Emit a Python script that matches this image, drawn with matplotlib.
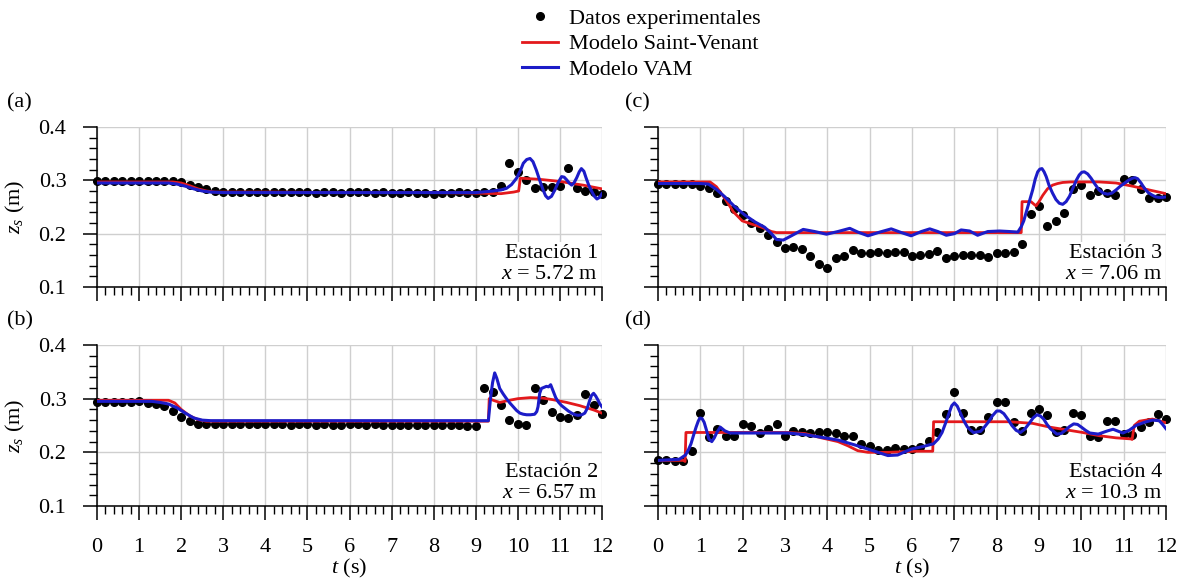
import numpy as np
import matplotlib
matplotlib.use("Agg")
import matplotlib.pyplot as plt
from matplotlib.ticker import MultipleLocator
from matplotlib.lines import Line2D

plt.rcParams["font.family"] = "Liberation Serif"
plt.rcParams["mathtext.fontset"] = "custom"
plt.rcParams["mathtext.rm"] = "Liberation Serif"
plt.rcParams["mathtext.it"] = "Liberation Serif:italic"

RED = "#e3191c"
BLUE = "#1c1cc8"
FS = 16

# sampling times of the experimental gauges (every 0.2 s)
t_exp = np.round(np.arange(0, 12.01, 0.2), 1)

# (a) Estacion 1, x = 5.72 m
exp_a = [0.298] * 10 + [0.296, 0.292, 0.287, 0.283, 0.280] + [
    0.279, 0.278, 0.279, 0.278, 0.279, 0.278, 0.278, 0.279, 0.278, 0.279, 0.278,
    0.277, 0.278, 0.279, 0.277, 0.278, 0.278, 0.279, 0.277, 0.278, 0.276, 0.277,
    0.278, 0.276, 0.277, 0.275, 0.277, 0.276, 0.278, 0.277, 0.277, 0.278, 0.278,
] + [0.289, 0.332, 0.316, 0.300, 0.285, 0.287, 0.288, 0.290, 0.324, 0.285, 0.280, 0.278, 0.275]
sv_a_t = [0, 1.8, 2.0, 2.2, 2.4, 2.6, 2.8, 4.0, 6.0, 8.0, 9.0, 9.6, 9.9, 10.02, 10.06, 10.5, 11.0, 11.3, 11.55, 12.0]
sv_a = [0.297, 0.297, 0.295, 0.290, 0.284, 0.280, 0.278, 0.278, 0.277, 0.277, 0.276, 0.275, 0.278, 0.280,
        0.304, 0.302, 0.298, 0.294, 0.291, 0.284]
vam_a_t = [0, 1.7, 1.9, 2.1, 2.3, 2.5, 2.7, 3.0, 5.0, 7.0, 9.0, 9.41, 9.6, 9.73, 9.85, 9.97, 10.06, 10.13, 10.21,
           10.29, 10.36, 10.44, 10.52, 10.6, 10.66, 10.72, 10.8, 10.88, 10.96, 11.04, 11.1, 11.16, 11.22, 11.28,
           11.34, 11.4, 11.46, 11.51, 11.57, 11.62, 11.68, 11.75, 11.82, 11.88, 11.94, 12.0]
vam_a = [0.295, 0.295, 0.293, 0.289, 0.284, 0.280, 0.278, 0.277, 0.277, 0.277, 0.277, 0.280, 0.282, 0.285,
         0.292, 0.304, 0.318, 0.332, 0.339, 0.341, 0.335, 0.319, 0.300, 0.282, 0.271, 0.266, 0.270, 0.282,
         0.296, 0.307, 0.306, 0.301, 0.295, 0.291, 0.296, 0.305, 0.316, 0.322, 0.317, 0.305, 0.292, 0.280,
         0.270, 0.265, 0.268, 0.275]

# (b) Estacion 2, x = 6.57 m
exp_b = [0.293, 0.294, 0.294, 0.294, 0.294] + [0.295, 0.292, 0.290, 0.286, 0.277, 0.266, 0.258, 0.253] + [
    0.252, 0.252, 0.252, 0.252, 0.252, 0.252, 0.252, 0.252, 0.252, 0.252, 0.251,
    0.252, 0.252, 0.251, 0.252, 0.251, 0.251, 0.252, 0.252, 0.251, 0.252, 0.251,
    0.251, 0.251, 0.251, 0.251, 0.251, 0.251, 0.251, 0.251, 0.251, 0.250, 0.250,
] + [0.320, 0.312, 0.288, 0.260, 0.252, 0.251, 0.320, 0.298, 0.275, 0.265, 0.264, 0.269, 0.308, 0.288, 0.272]
sv_b_t = [0, 1.7, 1.85, 2.0, 2.2, 2.4, 2.6, 4, 6, 8, 9.3, 9.32, 9.45, 9.57, 9.8, 10.0, 10.3, 10.6, 10.84,
          11.16, 11.47, 11.8, 12.0]
sv_b = [0.297, 0.297, 0.292, 0.280, 0.268, 0.261, 0.258, 0.258, 0.258, 0.258, 0.258, 0.300, 0.296, 0.293,
        0.297, 0.300, 0.302, 0.301, 0.298, 0.293, 0.287, 0.279, 0.273]
vam_b_t = [0, 1.3, 1.5, 1.7, 1.9, 2.1, 2.3, 2.5, 2.7, 5, 7, 9.3, 9.35, 9.4, 9.45, 9.5, 9.57, 9.65, 9.73, 9.81,
           9.89, 9.97, 10.05, 10.13, 10.21, 10.3, 10.4, 10.45, 10.48, 10.52, 10.56, 10.62, 10.68, 10.73, 10.78,
           10.84, 10.9, 10.96, 11.04, 11.12, 11.2, 11.28, 11.36, 11.43, 11.52, 11.59, 11.65, 11.7, 11.75, 11.8,
           11.85, 11.9, 11.95, 12.0]
vam_b = [0.295, 0.295, 0.293, 0.290, 0.283, 0.273, 0.264, 0.260, 0.259, 0.259, 0.259, 0.259, 0.300, 0.330,
         0.348, 0.338, 0.319, 0.309, 0.300, 0.292, 0.285, 0.278, 0.273, 0.271, 0.270, 0.270, 0.271, 0.276,
         0.285, 0.310, 0.319, 0.321, 0.323, 0.322, 0.326, 0.314, 0.302, 0.294, 0.287, 0.282, 0.277, 0.273,
         0.270, 0.269, 0.270, 0.273, 0.282, 0.295, 0.306, 0.310, 0.305, 0.298, 0.290, 0.285]

# (c) Estacion 3, x = 7.06 m
exp_c = [0.294] * 5 + [
    0.290, 0.285, 0.276, 0.262, 0.247, 0.235, 0.220, 0.210, 0.197, 0.184, 0.174, 0.175, 0.171,
    0.158, 0.143, 0.135, 0.154, 0.158, 0.170, 0.163, 0.163, 0.166, 0.164, 0.166, 0.166,
] + [
    0.158, 0.160, 0.161, 0.168, 0.154, 0.158, 0.160, 0.160, 0.160, 0.157, 0.163, 0.164, 0.165,
    0.180, 0.237, 0.252, 0.215, 0.224, 0.238, 0.284, 0.291, 0.272, 0.280, 0.277, 0.272, 0.302,
    0.300, 0.284, 0.266, 0.266, 0.269,
]
sv_c_t = [0, 1.23, 1.38, 1.58, 1.78, 1.99, 2.21, 2.45, 2.68, 2.80, 5, 8.58, 8.6, 8.81, 8.93, 9.0, 9.09, 9.2,
          9.32, 9.44, 9.56, 9.75, 9.95, 10.42, 10.82, 11.21, 11.6, 12.0]
sv_c = [0.297, 0.297, 0.288, 0.266, 0.241, 0.224, 0.218, 0.212, 0.204, 0.202, 0.202, 0.202, 0.260, 0.260,
        0.252, 0.260, 0.272, 0.284, 0.291, 0.294, 0.296, 0.297, 0.297, 0.297, 0.295, 0.289, 0.282, 0.275]
vam_c_t = [0, 1.0, 1.19, 1.38, 1.58, 1.82, 2.05, 2.29, 2.52, 2.68, 2.80, 2.96, 3.15, 3.43, 3.70, 3.98,
           4.25, 4.53, 4.72, 4.96, 5.24, 5.51, 5.75, 5.98, 6.22, 6.42, 6.61, 6.81, 7.0, 7.16, 7.36, 7.55,
           7.79, 8.07, 8.3, 8.5, 8.58, 8.64, 8.69, 8.77, 8.85, 8.91, 8.97, 9.02, 9.07, 9.12, 9.17, 9.24, 9.32,
           9.4, 9.48, 9.56, 9.64, 9.72, 9.8, 9.88, 9.95, 10.01, 10.07, 10.15, 10.23, 10.32, 10.42, 10.52,
           10.62, 10.72, 10.82, 10.92, 11.01, 11.11, 11.21, 11.27, 11.33, 11.41, 11.49, 11.58, 11.68, 11.76,
           11.84, 11.92, 12.0]
vam_c = [0.294, 0.294, 0.293, 0.283, 0.269, 0.250, 0.235, 0.222, 0.212, 0.200, 0.189, 0.188, 0.196, 0.208,
         0.204, 0.199, 0.204, 0.210, 0.203, 0.196, 0.203, 0.209, 0.202, 0.196, 0.204, 0.209, 0.204, 0.197,
         0.200, 0.207, 0.205, 0.197, 0.204, 0.205, 0.204, 0.203, 0.213, 0.224, 0.238, 0.260, 0.282, 0.302,
         0.316, 0.321, 0.322, 0.316, 0.307, 0.290, 0.276, 0.264, 0.257, 0.255, 0.260, 0.270, 0.285, 0.300,
         0.310, 0.315, 0.316, 0.312, 0.304, 0.293, 0.282, 0.276, 0.274, 0.276, 0.282, 0.289, 0.294, 0.300,
         0.304, 0.305, 0.303, 0.295, 0.285, 0.277, 0.272, 0.269, 0.268, 0.268, 0.269]

# (d) Estacion 4, x = 10.3 m
exp_d = [
    0.185, 0.185, 0.184, 0.184, 0.203, 0.273, 0.228, 0.244, 0.231, 0.230, 0.253, 0.249, 0.236, 0.243,
    0.252, 0.230, 0.240, 0.238, 0.236, 0.238, 0.237, 0.236, 0.231, 0.230, 0.215, 0.212, 0.205, 0.205,
    0.208, 0.206,
] + [
    0.207, 0.210, 0.222, 0.238, 0.272, 0.312, 0.273, 0.242, 0.242, 0.265, 0.293, 0.293, 0.256, 0.239,
    0.273, 0.281, 0.270, 0.238, 0.241, 0.274, 0.269, 0.231, 0.228, 0.259, 0.259, 0.235, 0.233, 0.247,
    0.257, 0.272, 0.262,
]
sv_d_t = [0, 0.6, 0.64, 0.66, 3.07, 3.47, 3.86, 4.25, 4.49, 4.72, 4.96, 5.43, 6.06, 6.49, 6.51, 8.3, 8.85,
          9.25, 9.64, 10.03, 10.42, 10.82, 11.17, 11.2, 11.25, 11.37, 11.68, 11.96, 12.0]
sv_d = [0.185, 0.185, 0.183, 0.237, 0.237, 0.235, 0.227, 0.220, 0.212, 0.203, 0.200, 0.200, 0.202, 0.202,
        0.257, 0.257, 0.254, 0.247, 0.242, 0.237, 0.231, 0.227, 0.225, 0.224, 0.250, 0.258, 0.262, 0.256,
        0.255]
vam_d_t = [0, 0.5, 0.65, 0.72, 0.78, 0.84, 0.9, 0.95, 0.99, 1.04, 1.09, 1.15, 1.2, 1.27, 1.33, 1.39, 1.47,
           1.58, 1.7, 3.07, 3.47, 3.86, 4.25, 4.64, 5.04, 5.43, 5.66, 5.98, 6.27, 6.51, 6.62, 6.71, 6.8, 6.87,
           6.94, 7.0, 7.07, 7.15, 7.23, 7.31, 7.45, 7.62, 7.71, 7.8, 7.9, 8.0, 8.08, 8.17, 8.27, 8.36, 8.46,
           8.56, 8.66, 8.76, 8.86, 8.95, 9.03, 9.11, 9.19, 9.27, 9.42, 9.52, 9.62, 9.72, 9.82, 9.91, 10.0,
           10.1, 10.2, 10.4, 10.62, 10.75, 10.98, 11.13, 11.29, 11.49, 11.68, 11.84, 11.92, 12.0]
vam_d = [0.185, 0.187, 0.195, 0.205, 0.216, 0.232, 0.247, 0.258, 0.264, 0.263, 0.256, 0.240, 0.225, 0.220,
         0.227, 0.237, 0.247, 0.240, 0.236, 0.236, 0.233, 0.228, 0.223, 0.214, 0.204, 0.194, 0.195, 0.206,
         0.211, 0.216, 0.225, 0.237, 0.256, 0.272, 0.287, 0.292, 0.286, 0.272, 0.258, 0.247, 0.237, 0.239,
         0.247, 0.256, 0.268, 0.277, 0.277, 0.272, 0.261, 0.250, 0.241, 0.237, 0.243, 0.253, 0.264, 0.270,
         0.268, 0.262, 0.252, 0.244, 0.234, 0.235, 0.241, 0.248, 0.253, 0.252, 0.247, 0.241, 0.236, 0.234,
         0.240, 0.243, 0.236, 0.241, 0.250, 0.256, 0.260, 0.259, 0.252, 0.244]

panels = [
    ("(a)", "Estación 1", "5.72", exp_a, sv_a_t, sv_a, vam_a_t, vam_a),
    ("(b)", "Estación 2", "6.57", exp_b, sv_b_t, sv_b, vam_b_t, vam_b),
    ("(c)", "Estación 3", "7.06", exp_c, sv_c_t, sv_c, vam_c_t, vam_c),
    ("(d)", "Estación 4", "10.3", exp_d, sv_d_t, sv_d, vam_d_t, vam_d),
]

fig = plt.figure(figsize=(11.81, 5.86), dpi=100)
W, H = 1181, 586
# axes boxes in pixels: left, right, top, bottom
boxes = [(97, 602, 127, 287), (97, 602, 345, 506), (658, 1166, 127, 287), (658, 1166, 345, 506)]

for i, (lab, est, xpos, ex, st, sz, vt, vz) in enumerate(panels):
    l, r, t, b = boxes[i]
    ax = fig.add_axes([l / W, 1 - b / H, (r - l) / W, (b - t) / H])
    ax.plot(t_exp, ex, "o", color="black", ms=5.5, clip_on=False, zorder=3)
    ax.plot(st, sz, color=RED, lw=2.0, zorder=4)
    ax.plot(vt, vz, color=BLUE, lw=2.2, zorder=5)

    ax.set_xlim(0, 12)
    ax.set_ylim(0.1, 0.4)
    ax.xaxis.set_major_locator(MultipleLocator(1))
    ax.xaxis.set_minor_locator(MultipleLocator(0.2))
    ax.yaxis.set_major_locator(MultipleLocator(0.1))
    ax.yaxis.set_minor_locator(MultipleLocator(0.02))
    ax.grid(True, which="major", color="#cfcfcf", lw=1.0)
    ax.set_axisbelow(True)
    for s in ["top", "right"]:
        ax.spines[s].set_visible(False)
    for s in ["left", "bottom"]:
        ax.spines[s].set_linewidth(1.1)
    ax.tick_params(which="major", direction="out", length=10, width=1.1, labelsize=FS)
    ax.tick_params(which="minor", direction="out", length=6, width=1.0)
    ax.tick_params(axis="x", which="major", pad=13)
    ax.tick_params(axis="y", which="major", pad=12)

    bottom_row = i in (1, 3)
    left_col = i in (0, 1)
    if bottom_row:
        ax.set_xlabel("$t$ (s)", fontsize=FS, labelpad=0)
    else:
        ax.set_xticklabels([])
    if left_col:
        ax.set_yticks([0.1, 0.2, 0.3, 0.4])
        ax.set_yticklabels(["0.1", "0.2", "0.3", "0.4"])
        ax.set_ylabel("$z_s$ (m)", fontsize=FS, labelpad=8)
    else:
        ax.set_yticklabels([])

    ax.text(0.992, 0.02, est + "\n$x$ = " + xpos + " m", transform=ax.transAxes, ha="right", va="bottom",
            fontsize=FS, linespacing=1.1, zorder=6,
            bbox=dict(facecolor="white", edgecolor="none", pad=1.5))
    ax.text((7 if left_col else 625) / W, 1 - (t - 24) / H, lab, transform=fig.transFigure,
            ha="left", va="center", fontsize=FS)

handles = [
    Line2D([], [], ls="none", marker="o", color="black", ms=5.5),
    Line2D([], [], color=RED, lw=2.0),
    Line2D([], [], color=BLUE, lw=2.2),
]
fig.legend(handles, ["Datos experimentales", "Modelo Saint-Venant", "Modelo VAM"],
           loc="upper center", bbox_to_anchor=(0.543, 1.02), frameon=False, fontsize=FS,
           handlelength=1.6, handletextpad=0.5, labelspacing=0.22)

fig.savefig("out.png", dpi=100)
